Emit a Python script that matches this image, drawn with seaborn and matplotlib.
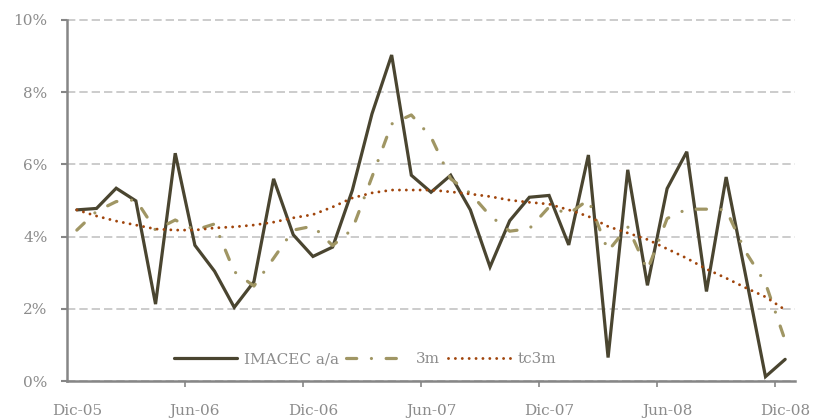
import matplotlib
matplotlib.use("Agg")
import matplotlib.pyplot as plt
import seaborn as sns
import pandas as pd
import numpy as np
from matplotlib.ticker import FixedLocator, FuncFormatter

# ---- data (monthly, Dic-05 .. Dic-08), values in % ----
imacec = [4.74, 4.78, 5.34, 4.99, 2.13, 6.31, 3.76, 3.04, 2.04, 2.75,
          5.60, 4.05, 3.45, 3.71, 5.28, 7.40, 9.03, 5.70, 5.23, 5.70,
          4.74, 3.16, 4.44, 5.09, 5.14, 3.77, 6.26, 0.65, 5.85, 2.65,
          5.33, 6.35, 2.48, 5.65, 2.90, 0.12, 0.60]
m3 = [4.18, 4.70, 4.97, 5.02, 4.18, 4.46, 4.18, 4.35, 3.03, 2.63,
      3.40, 4.18, 4.29, 3.75, 4.20, 5.65, 7.12, 7.37, 6.76, 5.60,
      5.20, 4.58, 4.15, 4.22, 4.82, 4.63, 5.02, 3.60, 4.27, 3.07,
      4.50, 4.76, 4.76, 4.74, 3.57, 2.71, 1.12]
tc3m = [4.74, 4.57, 4.43, 4.32, 4.21, 4.18, 4.18, 4.24, 4.27, 4.32,
        4.40, 4.52, 4.61, 4.82, 5.07, 5.21, 5.29, 5.29, 5.29, 5.24,
        5.18, 5.11, 5.01, 4.95, 4.90, 4.74, 4.56, 4.28, 4.10, 3.92,
        3.66, 3.40, 3.10, 2.85, 2.58, 2.33, 1.97]
tick_labels = ["Dic-05", "Jun-06", "Dic-06", "Jun-07", "Dic-07", "Jun-08", "Dic-08"]
series_names = ["IMACEC a/a", "3m", "tc3m"]

idx = np.arange(len(imacec))
df = pd.DataFrame({"i": idx, "IMACEC a/a": imacec, "3m": m3, "tc3m": tc3m})

sns.set_style("white")
plt.rcParams["font.family"] = ["DejaVu Serif"]

W, H = 813, 419
fig = plt.figure(figsize=(W / 100, H / 100), dpi=100)
ax = fig.add_axes([67 / W, (H - 381) / H, (795 - 67) / W, (381 - 20) / H])

c_imacec = "#4A4530"
c_3m = "#A09664"
c_tc = "#A0450C"
gray_txt = "#8C8C8C"
gray_ax = "#868686"

sns.lineplot(data=df, x="i", y="IMACEC a/a", ax=ax, color=c_imacec,
             linewidth=2.3, label=series_names[0], solid_joinstyle="miter")
sns.lineplot(data=df, x="i", y="3m", ax=ax, color=c_3m, linewidth=2.3,
             label=series_names[1], linestyle=(0, (3.2, 4.6, 0.01, 4.6)),
             dash_capstyle="round")
sns.lineplot(data=df, x="i", y="tc3m", ax=ax, color=c_tc, linewidth=2.1,
             label=series_names[2], linestyle=(0, (0.01, 2.35)),
             dash_capstyle="round")

ax.set_xlim(-0.5, 36.5)
ax.set_ylim(0, 10)
ax.set_xlabel("")
ax.set_ylabel("")

# y axis
ax.yaxis.set_major_locator(FixedLocator([0, 2, 4, 6, 8, 10]))
ax.yaxis.set_major_formatter(FuncFormatter(lambda v, p: f"{v:.0f}%"))
ax.tick_params(axis="y", which="major", direction="out", length=4, width=1.5,
               color=gray_ax, labelsize=11, labelcolor=gray_txt, pad=10, left=True)
ax.yaxis.grid(True, color="#C4C4C4", linestyle=(0, (5, 2.4)), linewidth=1.2)
ax.xaxis.grid(False)
for gl in ax.get_ygridlines():
    gl.set_clip_on(False)

# x axis
ax.xaxis.set_major_locator(FixedLocator(list(range(0, 37, 6))))
ax.set_xticklabels(tick_labels)
ax.xaxis.set_minor_locator(FixedLocator([k - 0.5 for k in range(6, 37, 6)]))
ax.tick_params(axis="x", which="major", length=0, labelsize=11,
               labelcolor=gray_txt, pad=16.5)
ax.tick_params(axis="x", which="minor", direction="out", length=4, width=1.2,
               color=gray_ax, bottom=True)

for s in ["top", "right"]:
    ax.spines[s].set_visible(False)
for s in ["left", "bottom"]:
    ax.spines[s].set_color(gray_ax)
    ax.spines[s].set_linewidth(1.8)

leg = ax.legend(loc="center", bbox_to_anchor=(365 / W, 1 - 359 / H),
                bbox_transform=fig.transFigure, ncol=3, frameon=False,
                fontsize=11, handlelength=4.1, handletextpad=0.45,
                columnspacing=0.5, labelcolor=gray_txt)

fig.savefig("out.png", dpi=100)
